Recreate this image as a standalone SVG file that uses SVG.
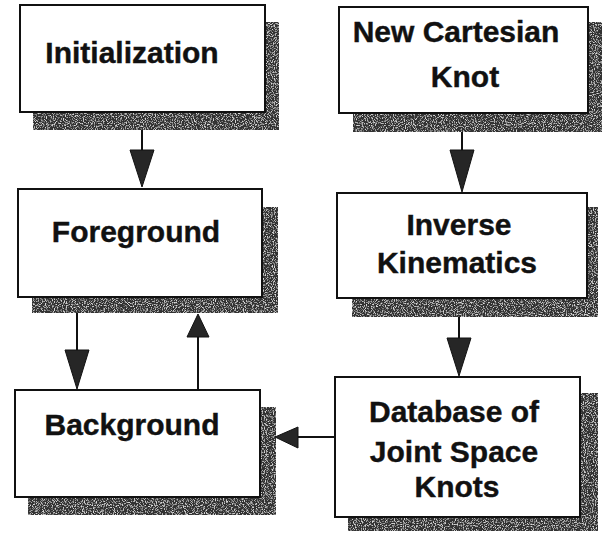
<svg xmlns="http://www.w3.org/2000/svg" width="603" height="533" viewBox="0 0 603 533">
<defs>
<filter id="grain" x="0" y="0" width="100%" height="100%">
<feTurbulence type="fractalNoise" baseFrequency="0.9" numOctaves="2" seed="4" result="n"/>
<feColorMatrix in="n" type="matrix" values="0 0 0 0 0.7  0 0 0 0 0.7  0 0 0 0 0.7  4 0 0 0 -2.0" result="w"/>
<feComposite in="w" in2="SourceGraphic" operator="in" result="wc"/>
<feMerge><feMergeNode in="SourceGraphic"/><feMergeNode in="wc"/></feMerge>
</filter>
</defs>
<style>
.shadow{fill:#333;filter:url(#grain)}
.box{fill:#fff;stroke:#111;stroke-width:2}
.lbl{font-family:"Liberation Sans",Arial,sans-serif;font-weight:bold;font-size:30px;fill:#111;text-anchor:middle;stroke:#111;stroke-width:0.4}
.line{stroke:#111;stroke-width:2;fill:none}
.head{fill:#262626;stroke:#111;stroke-width:1}
</style>
<rect width="603" height="533" fill="#fff"/>

<g id="initialization">
<rect class="shadow" x="33" y="22" width="246" height="108"/>
<rect class="box" x="20" y="5" width="245" height="107"/>
<text class="lbl" x="132" y="63">Initialization</text>
</g>

<g id="foreground">
<rect class="shadow" x="32" y="207" width="246" height="106"/>
<rect class="box" x="18" y="189" width="244" height="108"/>
<text class="lbl" x="136" y="242">Foreground</text>
</g>

<g id="background">
<rect class="shadow" x="28" y="407" width="248" height="108"/>
<rect class="box" x="15" y="390" width="245" height="107"/>
<text class="lbl" x="132" y="435">Background</text>
</g>

<g id="new-cartesian-knot">
<rect class="shadow" x="353" y="22" width="249" height="110"/>
<rect class="box" x="339" y="7" width="249" height="106"/>
<text class="lbl" x="456" y="42">New Cartesian</text>
<text class="lbl" x="465" y="87">Knot</text>
</g>

<g id="inverse-kinematics">
<rect class="shadow" x="352" y="207" width="246" height="110"/>
<rect class="box" x="337" y="193" width="250" height="105"/>
<text class="lbl" x="459" y="235">Inverse</text>
<text class="lbl" x="457" y="273">Kinematics</text>
</g>

<g id="database">
<rect class="shadow" x="348" y="393" width="250" height="138"/>
<rect class="box" x="335" y="377" width="245" height="140"/>
<text class="lbl" x="454" y="422">Database of</text>
<text class="lbl" x="454" y="462">Joint Space</text>
<text class="lbl" x="457" y="497">Knots</text>
</g>

<g id="connectors">
<line class="line" x1="142" y1="130" x2="142" y2="152"/>
<polygon class="head" points="130,150 154,150 142,187"/>
<line class="line" x1="462" y1="132" x2="462" y2="152"/>
<polygon class="head" points="450,150 474,150 462,192"/>
<line class="line" x1="459" y1="317" x2="459" y2="340"/>
<polygon class="head" points="447,338 471,338 459,376"/>
<line class="line" x1="77" y1="313" x2="77" y2="352"/>
<polygon class="head" points="65,350 89,350 77,389"/>
<line class="line" x1="198" y1="390" x2="198" y2="335"/>
<polygon class="head" points="187,337 209,337 198,314"/>
<line class="line" x1="335" y1="437" x2="296" y2="437"/>
<polygon class="head" points="298,427 298,448 275,437"/>
</g>
</svg>
